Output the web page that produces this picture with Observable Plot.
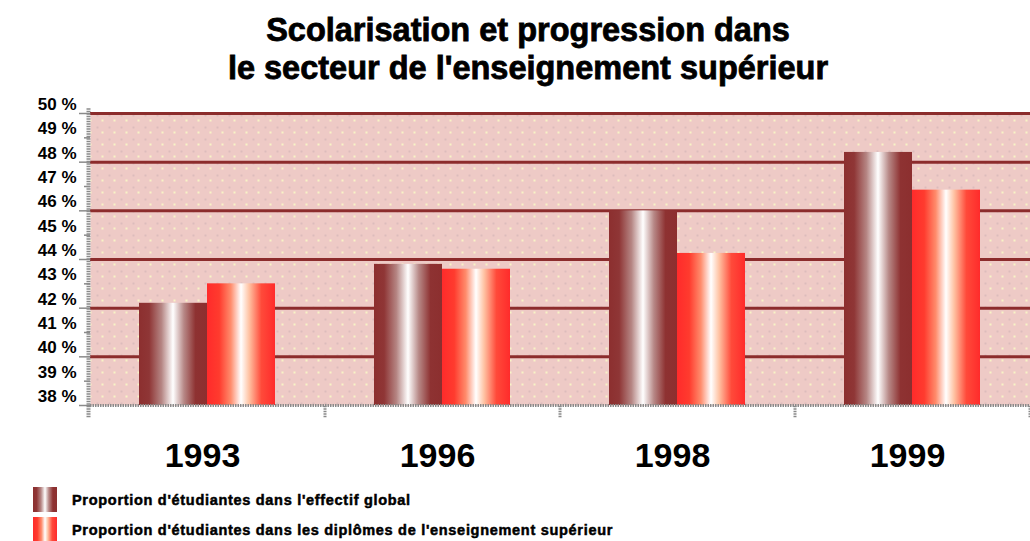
<!DOCTYPE html>
<html>
<head>
<meta charset="utf-8">
<script src="https://cdn.jsdelivr.net/npm/d3@7"></script>
<script src="https://cdn.jsdelivr.net/npm/@observablehq/plot@0.6"></script>
<style>
  html, body { margin: 0; padding: 0; background: #fff; }
  body { width: 1030px; height: 541px; overflow: hidden; font-family: "Liberation Sans", Arial, sans-serif; }
  #title { height: 79px; padding-top: 11px; padding-left: 26px; text-align: center; font-size: 32.5px; font-weight: bold; line-height: 38px; color: #000; -webkit-text-stroke: 0.8px #000; white-space: nowrap; }
  #legend { position: relative; height: 61px; }
  .row { position: absolute; left: 33px; height: 25px; display: flex; align-items: center; }
  .sw { width: 24px; height: 25px; margin-right: 15px; }
  .lt { font-size: 14.5px; font-weight: bold; letter-spacing: 0.7px; color: #000; -webkit-text-stroke: 0.5px #000; white-space: nowrap; }
</style>
</head>
<body>
<div id="title">Scolarisation et progression dans<br>le secteur de l'enseignement supérieur</div>
<div id="chart"></div>
<div id="legend"></div>
<script>
const years = ["1993", "1996", "1998", "1999"];
const studentShare = [42.2, 43.8, 46.0, 48.4];
const graduateShare = [43.0, 43.6, 44.25, 46.85];
const seriesNames = [
  "Proportion d'étudiantes dans l'effectif global",
  "Proportion d'étudiantes dans les diplômes de l'enseignement supérieur"
];
const yTicks = [38, 39, 40, 41, 42, 43, 44, 45, 46, 47, 48, 49, 50];
const yMajor = [38, 40, 42, 44, 46, 48, 50];
const yGrid = [40, 42, 44, 46, 48, 50];

const darkData = years.map((y, i) => ({year: y, value: studentShare[i]}));
const redData = years.map((y, i) => ({year: y, value: graduateShare[i]}));

const plot = Plot.plot({
  width: 1030,
  height: 390,
  marginTop: 23,
  marginBottom: 75,
  marginLeft: 90,
  marginRight: 0,
  x: {domain: years, paddingInner: 0.42, paddingOuter: 0.21, axis: null, label: null},
  y: {domain: [38, 50], axis: null, label: null},
  marks: [
    Plot.frame({fill: "url(#bgpat)", stroke: null}),
    Plot.ruleY(yGrid, {stroke: "#8c2c2c", strokeWidth: 3}),
    Plot.barY(darkData, {x: "year", y1: 38, y2: "value", fill: "url(#gDark)", insetRight: 68}),
    Plot.barY(redData, {x: "year", y1: 38, y2: "value", fill: "url(#gRed)", insetLeft: 68}),
    Plot.ruleY([38], {stroke: "#8a8a8a", strokeWidth: 3, strokeDasharray: "1.5,1"}),
    Plot.ruleX(years, {x: d => d, y1: 37.5, y2: 38, dx: 117.5, stroke: "#8a8a8a", strokeWidth: 3, strokeDasharray: "1.5,1"}),
    Plot.ruleX([years[0]], {x: d => d, y1: 37.5, y2: 50.2, dx: -119, stroke: "#8a8a8a", strokeWidth: 4, strokeDasharray: "1.5,1"}),
    Plot.axisY({ticks: yMajor, tickSize: 11, text: null, label: null, stroke: "#8a8a8a", strokeWidth: 1.5}),
    Plot.axisY(yTicks.filter(t => !yMajor.includes(t)), {tickSize: 6, text: null, label: null, stroke: "#8a8a8a", strokeWidth: 1.5}),
    Plot.axisY({ticks: yTicks, label: null, tickSize: 0, tickPadding: 14, dy: -9, tickFormat: d => d + " %", fontSize: 17, fontWeight: "bold", fontFamily: "'Liberation Sans', sans-serif", fill: "#000", stroke: "#000", strokeWidth: 0.8}),
    Plot.axisX({label: null, tickSize: 0, tickPadding: 37, dx: -5, fontSize: 34, fontWeight: "bold", fontFamily: "'Liberation Sans', sans-serif", fill: "#000", stroke: "#000", strokeWidth: 0.5})
  ]
});

const defs = d3.select(plot).insert("defs", ":first-child");
function grad(id, stops) {
  const g = defs.append("linearGradient").attr("id", id).attr("x1", 0).attr("x2", 1).attr("y1", 0).attr("y2", 0);
  stops.forEach(([o, c]) => g.append("stop").attr("offset", o).attr("stop-color", c));
}
grad("gDark", [[0, "#8c2f2f"], [0.15, "#8f3636"], [0.33, "#b58583"], [0.5, "#ffffff"], [0.66, "#b78886"], [0.83, "#8e3232"], [1, "#8c2f2f"]]);
grad("gRed", [[0, "#ff2b2b"], [0.18, "#ff3b2e"], [0.35, "#ff8c6c"], [0.5, "#ffffff"], [0.62, "#ffc2a2"], [0.8, "#ff4a3a"], [1, "#ff2b2b"]]);
const pat = defs.append("pattern").attr("id", "bgpat").attr("width", 12).attr("height", 12).attr("patternUnits", "userSpaceOnUse");
pat.append("rect").attr("width", 12).attr("height", 12).attr("fill", "#eecac6");
pat.append("rect").attr("x", 0).attr("y", 0).attr("width", 2).attr("height", 2).attr("fill", "#dcbcbc");
pat.append("rect").attr("x", 5).attr("y", 5).attr("width", 2).attr("height", 2).attr("fill", "#f8f4c6");

document.getElementById("chart").appendChild(plot);

const legend = document.getElementById("legend");
const swatchCss = [
  "linear-gradient(to right, #8c2f2f 0%, #8f3636 15%, #b58583 33%, #ffffff 50%, #b78886 66%, #8e3232 83%, #8c2f2f 100%)",
  "linear-gradient(to right, #ff2b2b 0%, #ff3b2e 18%, #ff8c6c 35%, #ffffff 50%, #ffc2a2 62%, #ff4a3a 80%, #ff2b2b 100%)"
];
seriesNames.forEach((name, i) => {
  const row = document.createElement("div");
  row.className = "row";
  row.style.top = (i === 0 ? 7 : 37) + "px";
  row.innerHTML = `<div class="sw" style="background:${swatchCss[i]}"></div><div class="lt">${name}</div>`;
  legend.appendChild(row);
});
</script>
</body>
</html>
